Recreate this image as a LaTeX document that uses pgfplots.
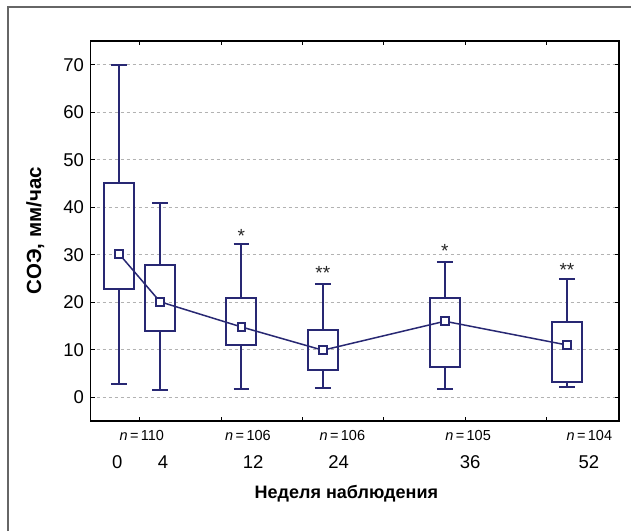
\documentclass[border=0pt]{standalone}
\usepackage{fontspec}
\setmainfont{Liberation Sans}
\usepackage{pgfplots}
\pgfplotsset{compat=1.18}
\usepgfplotslibrary{statistics}
\definecolor{boxc}{RGB}{40,40,115}
\begin{document}
\begin{tikzpicture}[x=1pt,y=1pt]
\useasboundingbox (0,0) rectangle (631,531);
\draw[line width=1.5pt, black!60] (8,0) -- (8,524) -- (631,524);
\begin{axis}[
 at={(90.5pt,110pt)}, anchor=south west, scale only axis,
 width=528.5pt, height=380pt,
 xmin=-0.71, xmax=12.28, ymin=-5, ymax=75,
 xtick={0.5,2.5,4.5,6.5,8.5,10.5}, xticklabels={},
 ytick={0,10,...,70},
 tick align=inside, major tick length=4pt,
 ymajorgrids, grid style={dashed, black!30, line width=1pt},
 axis line style={line width=1.5pt},
 tick style={line width=1pt, black},
 yticklabel style={font=\fontsize{18.5}{20}\selectfont, xshift=-3pt},
 /pgf/number format/assume math mode=true,
 clip=false,
 boxplot/draw direction=y,
 boxplot/draw/median/.code={},
]
\addplot[boxc, line width=2pt, boxplot prepared={draw position=0, lower whisker=2.8, lower quartile=22.8, median=30.1, upper quartile=45.2, upper whisker=70, box extend=0.74, whisker extend=0.39}] coordinates {};
\addplot[boxc, line width=2pt, boxplot prepared={draw position=1, lower whisker=1.6, lower quartile=13.9, median=20.1, upper quartile=27.9, upper whisker=40.8, box extend=0.74, whisker extend=0.39}] coordinates {};
\addplot[boxc, line width=2pt, boxplot prepared={draw position=3, lower whisker=1.8, lower quartile=10.9, median=14.8, upper quartile=20.9, upper whisker=32.2, box extend=0.74, whisker extend=0.39}] coordinates {};
\addplot[boxc, line width=2pt, boxplot prepared={draw position=5, lower whisker=1.9, lower quartile=5.7, median=9.9, upper quartile=14.1, upper whisker=23.8, box extend=0.74, whisker extend=0.39}] coordinates {};
\addplot[boxc, line width=2pt, boxplot prepared={draw position=8, lower whisker=1.8, lower quartile=6.4, median=16.0, upper quartile=20.9, upper whisker=28.4, box extend=0.74, whisker extend=0.39}] coordinates {};
\addplot[boxc, line width=2pt, boxplot prepared={draw position=11, lower whisker=2.1, lower quartile=3.2, median=11.0, upper quartile=15.9, upper whisker=24.9, box extend=0.74, whisker extend=0.39}] coordinates {};
\addplot[boxc, line width=1.5pt, mark=square*, mark size=3.9pt, mark options={fill=white, line width=2pt, solid}] coordinates {(0,30.1) (1,20.1) (3,14.8) (5,9.9) (8,16.0) (11,11.0)};
% significance marks
\node[font=\fontsize{19}{19}\selectfont, black!85] at (axis cs:3,33.9) {*};
\node[font=\fontsize{19}{19}\selectfont, black!85] at (axis cs:5,26.2) {**};
\node[font=\fontsize{19}{19}\selectfont, black!85] at (axis cs:8,30.8) {*};
\node[font=\fontsize{19}{19}\selectfont, black!85] at (axis cs:11,26.9) {**};
% n labels
\begin{scope}[every node/.style={font=\fontsize{14.5}{16}\selectfont}]
\node at (axis cs:0.55,-8.0) {\textit{n}\,=\,110};
\node at (axis cs:3.16,-8.0) {\textit{n}\,=\,106};
\node at (axis cs:5.48,-8.0) {\textit{n}\,=\,106};
\node at (axis cs:8.57,-8.0) {\textit{n}\,=\,105};
\node at (axis cs:11.55,-8.0) {\textit{n}\,=\,104};
\end{scope}
% week labels
\begin{scope}[every node/.style={font=\fontsize{18.5}{20}\selectfont}]
\node at (axis cs:-0.05,-13.7) {0};
\node at (axis cs:1.07,-13.7) {4};
\node at (axis cs:3.29,-13.7) {12};
\node at (axis cs:5.39,-13.7) {24};
\node at (axis cs:8.62,-13.7) {36};
\node at (axis cs:11.54,-13.7) {52};
\end{scope}
\node[font=\fontsize{18}{20}\selectfont\bfseries] at (axis cs:5.58,-20.2) {Неделя наблюдения};
\node[font=\fontsize{20.5}{22}\selectfont\bfseries, rotate=90] at (axis cs:-2.07,35.1) {СОЭ, мм/час};
\end{axis}
\end{tikzpicture}
\end{document}
